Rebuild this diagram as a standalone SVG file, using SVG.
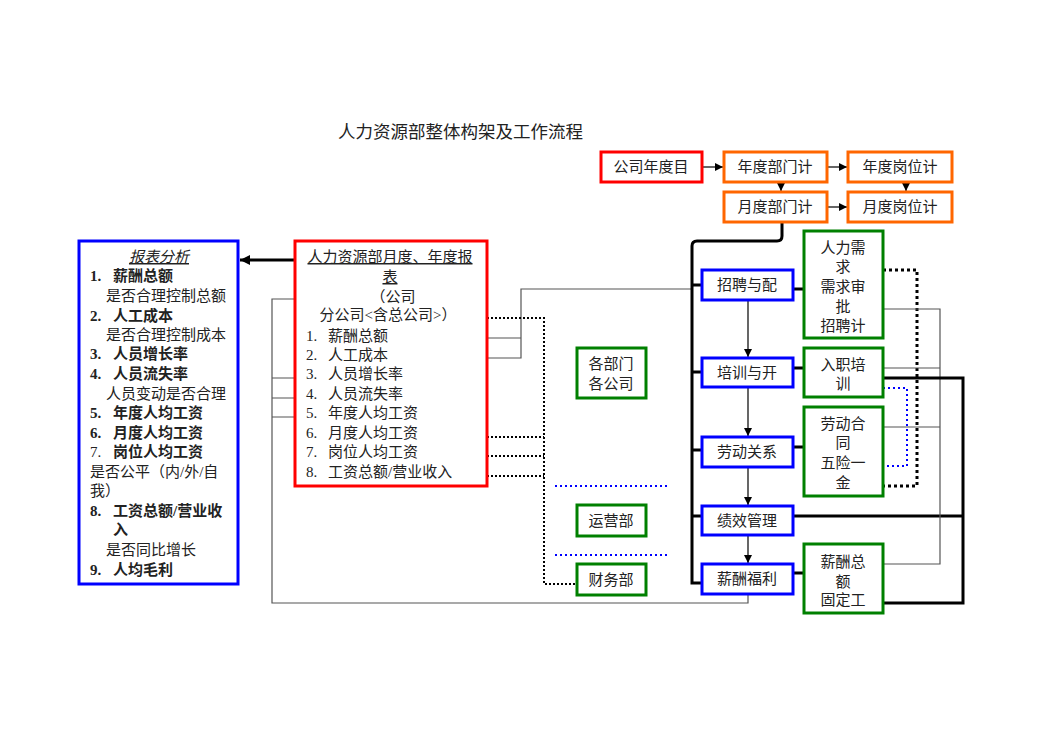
<svg xmlns="http://www.w3.org/2000/svg" width="1059" height="749" viewBox="0 0 1059 749">
<style>
text{font-family:"Liberation Serif","Noto Sans CJK SC",serif;font-size:15px;fill:#222}
.c{text-anchor:middle}
.b{font-weight:bold}
.red{fill:#fff;stroke:#ff0000;stroke-width:3}
.org{fill:#fff;stroke:#ff6600;stroke-width:3}
.blu{fill:#fff;stroke:#0000ff;stroke-width:3}
.grn{fill:#fff;stroke:#008000;stroke-width:3}
.thin{fill:none;stroke:#555;stroke-width:1.2}
.thick{fill:none;stroke:#000;stroke-width:3}
.dot{fill:none;stroke:#000;stroke-width:2;stroke-dasharray:2 2}
.dotb{fill:none;stroke:#000;stroke-width:3;stroke-dasharray:3 3}
.bdot{fill:none;stroke:#0000ff;stroke-width:2;stroke-dasharray:2 3}
.arr{fill:none;stroke:#000;stroke-width:1.2}
</style>
<defs>
<marker id="ah" viewBox="0 0 10 10" refX="10" refY="5" markerWidth="8" markerHeight="8" markerUnits="userSpaceOnUse" orient="auto"><path d="M0,0L10,5L0,10z" fill="#000"/></marker>
<marker id="ahb" viewBox="0 0 10 10" refX="10" refY="5" markerWidth="10" markerHeight="10" markerUnits="userSpaceOnUse" orient="auto"><path d="M0,0L10,5L0,10z" fill="#000"/></marker>
</defs>
<text x="338" y="138" style="font-size:17.5px">人力资源部整体构架及工作流程</text>

<g id="connectors">
<line class="arr" x1="702" y1="167" x2="723" y2="167" marker-end="url(#ah)"/>
<line class="arr" x1="827" y1="167" x2="847" y2="167" marker-end="url(#ah)"/>
<line class="arr" x1="781" y1="182" x2="781" y2="191" marker-end="url(#ah)"/>
<line class="arr" x1="906" y1="182" x2="906" y2="191" marker-end="url(#ah)"/>
<line class="arr" x1="827" y1="207" x2="847" y2="207" marker-end="url(#ah)"/>
<line x1="294" y1="260" x2="240" y2="260" stroke="#000" stroke-width="3" marker-end="url(#ahb)"/>
<path class="thin" d="M294,299H272V603H748V594"/>
<path class="thin" d="M272,378H294M272,398H294M272,417H294"/>
<path class="thin" d="M487,338H521M487,358H521V289H692"/>
<path class="dot" d="M487,318H544V584H577"/>
<path class="dot" d="M487,437H544M487,456H544M487,476H544"/>
<path class="bdot" d="M555,486H667M555,555H667"/>
<path class="thick" d="M782,222V236Q782,241 777,241H697Q692,241 692,246V583H702"/>
<path class="thick" d="M692,285H702M692,372H702M692,450H702M692,516H963"/>
<path class="thick" d="M793,289H804M793,368H804M793,447H804M793,573H804"/>
<line class="arr" x1="748" y1="300" x2="748" y2="357" marker-end="url(#ah)"/>
<line class="arr" x1="748" y1="387" x2="748" y2="436" marker-end="url(#ah)"/>
<line class="arr" x1="748" y1="467" x2="748" y2="505" marker-end="url(#ah)"/>
<line class="arr" x1="748" y1="535" x2="748" y2="563" marker-end="url(#ah)"/>
<path class="dotb" d="M883,270H917V486H883"/>
<path class="bdot" d="M883,388H907V466H883"/>
<path class="thin" d="M883,309H940V564H883M883,368H940M883,427H940"/>
<path class="thick" d="M883,378H963V603H883"/>
</g>

<g id="n-goal"><rect class="red" x="601" y="152" width="101" height="30"/><text class="c" x="651" y="172">公司年度目</text></g>
<g id="n-ydept"><rect class="org" x="724" y="152" width="103" height="30"/><text class="c" x="775" y="172">年度部门计</text></g>
<g id="n-ypos"><rect class="org" x="848" y="152" width="104" height="30"/><text class="c" x="900" y="172">年度岗位计</text></g>
<g id="n-mdept"><rect class="org" x="724" y="192" width="103" height="30"/><text class="c" x="775" y="212">月度部门计</text></g>
<g id="n-mpos"><rect class="org" x="848" y="192" width="104" height="30"/><text class="c" x="900" y="212">月度岗位计</text></g>

<g id="n-analysis">
<rect class="blu" x="79" y="241" width="159" height="343"/>
<text class="c" x="159" y="262" style="font-style:italic;text-decoration:underline">报表分析</text>
<text class="b" x="90" y="281">1.</text><text class="b" x="113" y="281">薪酬总额</text>
<text x="106" y="301">是否合理控制总额</text>
<text class="b" x="90" y="321">2.</text><text class="b" x="113" y="321">人工成本</text>
<text x="106" y="340">是否合理控制成本</text>
<text class="b" x="90" y="359">3.</text><text class="b" x="113" y="359">人员增长率</text>
<text class="b" x="90" y="379">4.</text><text class="b" x="113" y="379">人员流失率</text>
<text x="106" y="399">人员变动是否合理</text>
<text class="b" x="90" y="418">5.</text><text class="b" x="113" y="418">年度人均工资</text>
<text class="b" x="90" y="438">6.</text><text class="b" x="113" y="438">月度人均工资</text>
<text x="90" y="457">7.</text><text class="b" x="113" y="457">岗位人均工资</text>
<text x="90" y="477">是否公平（内/外/自</text>
<text x="90" y="496">我）</text>
<text class="b" x="90" y="516">8.</text><text class="b" x="113" y="516">工资总额/营业收</text>
<text class="b" x="113" y="535">入</text>
<text x="106" y="555">是否同比增长</text>
<text class="b" x="90" y="575">9.</text><text class="b" x="113" y="575">人均毛利</text>
</g>

<g id="n-report">
<rect class="red" x="295" y="241" width="192" height="245"/>
<text class="c" x="390" y="262" style="text-decoration:underline">人力资源部月度、年度报</text>
<text class="c" x="390" y="282" style="text-decoration:underline">表</text>
<text class="c" x="393" y="302">（公司</text>
<text class="c" x="388" y="320">分公司&lt;含总公司&gt;）</text>
<text x="306" y="341">1.</text><text x="328" y="341">薪酬总额</text>
<text x="306" y="360">2.</text><text x="328" y="360">人工成本</text>
<text x="306" y="379">3.</text><text x="328" y="379">人员增长率</text>
<text x="306" y="399">4.</text><text x="328" y="399">人员流失率</text>
<text x="306" y="418">5.</text><text x="328" y="418">年度人均工资</text>
<text x="306" y="438">6.</text><text x="328" y="438">月度人均工资</text>
<text x="306" y="457">7.</text><text x="328" y="457">岗位人均工资</text>
<text x="306" y="477">8.</text><text x="328" y="477">工资总额/营业收入</text>
</g>

<g id="n-depts"><rect class="grn" x="577" y="348" width="69" height="50"/><text class="c" x="611" y="369">各部门</text><text class="c" x="611" y="389">各公司</text></g>
<g id="n-ops"><rect class="grn" x="577" y="505" width="69" height="31"/><text class="c" x="611" y="526">运营部</text></g>
<g id="n-fin"><rect class="grn" x="577" y="564" width="69" height="31"/><text class="c" x="611" y="585">财务部</text></g>

<g id="n-recruit"><rect class="blu" x="702" y="270" width="91" height="30"/><text class="c" x="747" y="290">招聘与配</text></g>
<g id="n-train"><rect class="blu" x="702" y="358" width="91" height="29"/><text class="c" x="747" y="378">培训与开</text></g>
<g id="n-labor"><rect class="blu" x="702" y="437" width="91" height="30"/><text class="c" x="747" y="457">劳动关系</text></g>
<g id="n-perf"><rect class="blu" x="702" y="506" width="91" height="29"/><text class="c" x="747" y="526">绩效管理</text></g>
<g id="n-pay"><rect class="blu" x="702" y="564" width="91" height="30"/><text class="c" x="747" y="584">薪酬福利</text></g>

<g id="n-hrneed"><rect class="grn" x="804" y="231" width="79" height="107"/>
<text class="c" x="843" y="253">人力需</text><text class="c" x="843" y="272">求</text><text class="c" x="843" y="292">需求审</text><text class="c" x="843" y="312">批</text><text class="c" x="843" y="331">招聘计</text></g>
<g id="n-onboard"><rect class="grn" x="804" y="348" width="79" height="49"/>
<text class="c" x="843" y="370">入职培</text><text class="c" x="843" y="389">训</text></g>
<g id="n-contract"><rect class="grn" x="804" y="407" width="79" height="89"/>
<text class="c" x="843" y="429">劳动合</text><text class="c" x="843" y="448">同</text><text class="c" x="843" y="468">五险一</text><text class="c" x="843" y="488">金</text></g>
<g id="n-paytotal"><rect class="grn" x="804" y="544" width="79" height="69"/>
<text class="c" x="843" y="567">薪酬总</text><text class="c" x="843" y="587">额</text><text class="c" x="843" y="605">固定工</text></g>
</svg>
